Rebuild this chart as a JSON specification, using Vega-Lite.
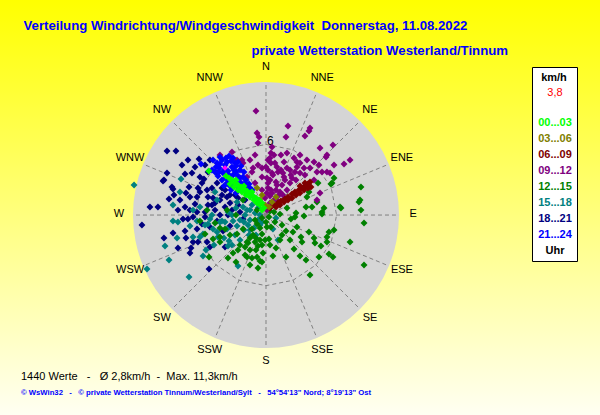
{
  "$schema": "https://vega.github.io/schema/vega-lite/v6.json",
  "width": 600,
  "height": 415,
  "padding": 0,
  "autosize": {"type": "fit", "contains": "padding"},
  "background": "#FFFFFF",
  "title": {
    "text": "1440 Werte\u00a0\u00a0 -\u00a0\u00a0 Ø 2,8km/h\u00a0 -\u00a0 Max. 11,3km/h",
    "subtitle": "© WsWin32\u00a0\u00a0 -\u00a0\u00a0 © private Wetterstation Tinnum/Westerland/Sylt\u00a0\u00a0 -\u00a0\u00a0 54°54'13\" Nord; 8°19'13\" Ost",
    "orient": "bottom",
    "anchor": "start",
    "frame": "group",
    "dx": 21,
    "offset": -44,
    "font": "Liberation Sans",
    "fontSize": 11,
    "fontWeight": "normal",
    "color": "#000000",
    "subtitleFont": "Liberation Sans",
    "subtitleFontSize": 7.7,
    "subtitleFontWeight": "bold",
    "subtitleColor": "#0000FF",
    "subtitlePadding": 7
  },
  "datasets": {
    "richtungen": [
      {"name": "N", "winkel": 0}, {"name": "NNE", "winkel": 22.5}, {"name": "NE", "winkel": 45}, {"name": "ENE", "winkel": 67.5},
      {"name": "E", "winkel": 90}, {"name": "ESE", "winkel": 112.5}, {"name": "SE", "winkel": 135}, {"name": "SSE", "winkel": 157.5},
      {"name": "S", "winkel": 180}, {"name": "SSW", "winkel": 202.5}, {"name": "SW", "winkel": 225}, {"name": "WSW", "winkel": 247.5},
      {"name": "W", "winkel": 270}, {"name": "WNW", "winkel": 292.5}, {"name": "NW", "winkel": 315}, {"name": "NNW", "winkel": 337.5}
    ],
    "ring": [
      {"winkel": 0}, {"winkel": 22.5}, {"winkel": 45}, {"winkel": 67.5}, {"winkel": 90}, {"winkel": 112.5}, {"winkel": 135}, {"winkel": 157.5},
      {"winkel": 180}, {"winkel": 202.5}, {"winkel": 225}, {"winkel": 247.5}, {"winkel": 270}, {"winkel": 292.5}, {"winkel": 315}, {"winkel": 337.5}, {"winkel": 360}
    ],
    "aktuell": [{"ost": -3.48, "nord": 3.99}],
    "punkte": [
      {"uhr": "18...21", "ost": -8.41, "nord": 5.44}, {"uhr": "18...21", "ost": -7.65, "nord": 5.44}, {"uhr": "18...21", "ost": -5.69, "nord": 4.76},
      {"uhr": "18...21", "ost": -8.41, "nord": 3.57}, {"uhr": "18...21", "ost": -8.75, "nord": 2.89}, {"uhr": "18...21", "ost": -6.88, "nord": 3.48},
      {"uhr": "18...21", "ost": -6.29, "nord": 3.57}, {"uhr": "18...21", "ost": -6.54, "nord": 2.38}, {"uhr": "18...21", "ost": -5.78, "nord": 2.29},
      {"uhr": "18...21", "ost": -5.27, "nord": 3.06}, {"uhr": "18...21", "ost": -7.9, "nord": 2.21}, {"uhr": "18...21", "ost": -8.24, "nord": 1.36},
      {"uhr": "18...21", "ost": -7.82, "nord": 1.7}, {"uhr": "18...21", "ost": -5.86, "nord": 1.53}, {"uhr": "18...21", "ost": -5.01, "nord": 2.12},
      {"uhr": "18...21", "ost": -4.59, "nord": 2.29}, {"uhr": "18...21", "ost": -9.86, "nord": 0.68}, {"uhr": "18...21", "ost": -9.18, "nord": 0.68},
      {"uhr": "18...21", "ost": -6.88, "nord": 0.68}, {"uhr": "18...21", "ost": -5.44, "nord": 2.72}, {"uhr": "18...21", "ost": -6.46, "nord": 1.53},
      {"uhr": "18...21", "ost": -6.03, "nord": 0.93}, {"uhr": "18...21", "ost": -4.93, "nord": 1.53}, {"uhr": "18...21", "ost": -4.5, "nord": 1.44},
      {"uhr": "18...21", "ost": -4.16, "nord": 3.57}, {"uhr": "18...21", "ost": -5.61, "nord": 3.23}, {"uhr": "18...21", "ost": -4.93, "nord": 3.65},
      {"uhr": "18...21", "ost": -4.16, "nord": 2.72}, {"uhr": "18...21", "ost": -3.74, "nord": 2.29}, {"uhr": "18...21", "ost": -3.91, "nord": 1.27},
      {"uhr": "18...21", "ost": -3.31, "nord": 1.53}, {"uhr": "18...21", "ost": -3.48, "nord": 0.68}, {"uhr": "18...21", "ost": -3.06, "nord": 1.02},
      {"uhr": "18...21", "ost": -4.33, "nord": 0.42}, {"uhr": "18...21", "ost": -5.18, "nord": 0.25}, {"uhr": "18...21", "ost": -5.86, "nord": 0.25},
      {"uhr": "18...21", "ost": -10.54, "nord": -0.85}, {"uhr": "18...21", "ost": -8.67, "nord": -1.95}, {"uhr": "18...21", "ost": -7.9, "nord": -1.53},
      {"uhr": "18...21", "ost": -6.88, "nord": -1.36}, {"uhr": "18...21", "ost": -6.8, "nord": -1.95}, {"uhr": "18...21", "ost": -7.48, "nord": -2.8},
      {"uhr": "18...21", "ost": -6.37, "nord": -2.8}, {"uhr": "18...21", "ost": -6.46, "nord": -3.23}, {"uhr": "18...21", "ost": -6.2, "nord": -2.29},
      {"uhr": "18...21", "ost": -5.78, "nord": -2.29}, {"uhr": "18...21", "ost": -5.01, "nord": -2.29}, {"uhr": "18...21", "ost": -4.76, "nord": -2.72},
      {"uhr": "18...21", "ost": -4.84, "nord": -4.59}, {"uhr": "18...21", "ost": -5.86, "nord": -1.19}, {"uhr": "18...21", "ost": -5.44, "nord": -0.76},
      {"uhr": "18...21", "ost": -6.2, "nord": -0.17}, {"uhr": "18...21", "ost": -7.05, "nord": -0.34}, {"uhr": "18...21", "ost": -6.63, "nord": -0.34},
      {"uhr": "18...21", "ost": -5.18, "nord": -0.17}, {"uhr": "18...21", "ost": -4.16, "nord": -0.51}, {"uhr": "18...21", "ost": -4.76, "nord": -1.02},
      {"uhr": "18...21", "ost": -3.65, "nord": -1.36}, {"uhr": "18...21", "ost": -3.48, "nord": -2.72}, {"uhr": "18...21", "ost": -3.06, "nord": -0.93},
      {"uhr": "18...21", "ost": -1.95, "nord": -0.34}, {"uhr": "18...21", "ost": -7.99, "nord": 2.38}, {"uhr": "18...21", "ost": -8.67, "nord": 2.97},
      {"uhr": "18...21", "ost": -2.63, "nord": 1.7}, {"uhr": "18...21", "ost": -2.89, "nord": 0.42}, {"uhr": "18...21", "ost": -2.38, "nord": 0.85},
      {"uhr": "18...21", "ost": -3.23, "nord": 0}, {"uhr": "18...21", "ost": -2.21, "nord": 0.25}, {"uhr": "18...21", "ost": -4.59, "nord": 0.85},
      {"uhr": "18...21", "ost": -3.91, "nord": 0}, {"uhr": "18...21", "ost": -1.78, "nord": 1.27},
      {"uhr": "18...21", "ost": -7.14, "nord": 4.25}, {"uhr": "18...21", "ost": -6.63, "nord": 4.67}, {"uhr": "18...21", "ost": -6.03, "nord": 4.08},
      {"uhr": "18...21", "ost": -5.18, "nord": 4.25}, {"uhr": "18...21", "ost": -4.76, "nord": 4.67}, {"uhr": "18...21", "ost": -7.31, "nord": 1.27},
      {"uhr": "18...21", "ost": -6.8, "nord": 1.87}, {"uhr": "18...21", "ost": -5.61, "nord": 1.95}, {"uhr": "18...21", "ost": -4.33, "nord": 1.02},
      {"uhr": "18...21", "ost": -3.74, "nord": 1.7}, {"uhr": "18...21", "ost": -3.48, "nord": 2.12}, {"uhr": "18...21", "ost": -4.93, "nord": 0.85},
      {"uhr": "18...21", "ost": -6.46, "nord": 0.42}, {"uhr": "18...21", "ost": -7.48, "nord": 0.42}, {"uhr": "18...21", "ost": -3.06, "nord": 1.7},
      {"uhr": "18...21", "ost": -2.38, "nord": 1.44},
      {"uhr": "15...18", "ost": -11.21, "nord": 2.55}, {"uhr": "15...18", "ost": -7.22, "nord": 3.06}, {"uhr": "15...18", "ost": -7.31, "nord": 1.95},
      {"uhr": "15...18", "ost": -7.9, "nord": 0.85}, {"uhr": "15...18", "ost": -6.2, "nord": 0.42}, {"uhr": "15...18", "ost": -5.61, "nord": 0.68},
      {"uhr": "15...18", "ost": -4.33, "nord": 1.95}, {"uhr": "15...18", "ost": -4.16, "nord": 1.27}, {"uhr": "15...18", "ost": -1.95, "nord": 0.68},
      {"uhr": "15...18", "ost": -1.36, "nord": 0.42}, {"uhr": "15...18", "ost": -2.46, "nord": 1.1}, {"uhr": "15...18", "ost": -10.11, "nord": -4.59},
      {"uhr": "15...18", "ost": -8.58, "nord": -2.63}, {"uhr": "15...18", "ost": -8.24, "nord": -3.82}, {"uhr": "15...18", "ost": -7.56, "nord": -1.95},
      {"uhr": "15...18", "ost": -6.54, "nord": -5.27}, {"uhr": "15...18", "ost": -5.35, "nord": -3.48}, {"uhr": "15...18", "ost": -7.9, "nord": -0.51},
      {"uhr": "15...18", "ost": -7.48, "nord": -0.59}, {"uhr": "15...18", "ost": -6.2, "nord": -1.87}, {"uhr": "15...18", "ost": -5.61, "nord": -1.87},
      {"uhr": "15...18", "ost": -4.08, "nord": -1.87}, {"uhr": "15...18", "ost": -3.14, "nord": -2.21}, {"uhr": "15...18", "ost": -3.23, "nord": -2.63},
      {"uhr": "15...18", "ost": -2.38, "nord": -4.33}, {"uhr": "15...18", "ost": -1.44, "nord": -1.7}, {"uhr": "15...18", "ost": -3.31, "nord": -1.19},
      {"uhr": "15...18", "ost": -4.5, "nord": -1.19}, {"uhr": "15...18", "ost": -5.35, "nord": -1.61}, {"uhr": "15...18", "ost": -3.74, "nord": -0.51},
      {"uhr": "15...18", "ost": -2.8, "nord": -0.51}, {"uhr": "15...18", "ost": -6.46, "nord": -0.93}, {"uhr": "15...18", "ost": -5.86, "nord": -0.51},
      {"uhr": "15...18", "ost": -4.76, "nord": -0.34}, {"uhr": "15...18", "ost": -2.46, "nord": -0.93}, {"uhr": "15...18", "ost": -4.16, "nord": -1.44},
      {"uhr": "15...18", "ost": -4.93, "nord": -0.76}, {"uhr": "15...18", "ost": 0.85, "nord": -0.25}, {"uhr": "15...18", "ost": 0.59, "nord": -1.19},
      {"uhr": "15...18", "ost": 1.02, "nord": -2.12}, {"uhr": "15...18", "ost": -1.78, "nord": 0}, {"uhr": "15...18", "ost": -1.36, "nord": -0.42},
      {"uhr": "15...18", "ost": -0.93, "nord": 0.17}, {"uhr": "15...18", "ost": -1.53, "nord": -0.85}, {"uhr": "15...18", "ost": -2.21, "nord": -0.42},
      {"uhr": "15...18", "ost": -0.68, "nord": -0.42}, {"uhr": "15...18", "ost": -1.19, "nord": 0.85}, {"uhr": "15...18", "ost": -1.87, "nord": -1.27},
      {"uhr": "15...18", "ost": -2.63, "nord": -1.7}, {"uhr": "15...18", "ost": -0.51, "nord": -0.85}, {"uhr": "15...18", "ost": -1.02, "nord": -1.1},
      {"uhr": "15...18", "ost": -1.61, "nord": 0.42}, {"uhr": "15...18", "ost": -2.89, "nord": 0}, {"uhr": "15...18", "ost": -3.48, "nord": -0.59},
      {"uhr": "15...18", "ost": -0.51, "nord": 0},
      {"uhr": "15...18", "ost": -5.18, "nord": -0.85}, {"uhr": "15...18", "ost": -4.59, "nord": 0}, {"uhr": "15...18", "ost": -3.91, "nord": -0.59},
      {"uhr": "15...18", "ost": -3.23, "nord": 0.25}, {"uhr": "15...18", "ost": -2.55, "nord": 0.59}, {"uhr": "15...18", "ost": -1.87, "nord": -0.59},
      {"uhr": "15...18", "ost": -1.36, "nord": -1.27}, {"uhr": "15...18", "ost": -0.85, "nord": -1.7}, {"uhr": "15...18", "ost": -2.21, "nord": -2.12},
      {"uhr": "15...18", "ost": -2.89, "nord": -2.55}, {"uhr": "15...18", "ost": -3.57, "nord": -1.95}, {"uhr": "15...18", "ost": -4.42, "nord": -2.55},
      {"uhr": "15...18", "ost": -5.1, "nord": -2.97}, {"uhr": "15...18", "ost": -0.68, "nord": 0.59}, {"uhr": "15...18", "ost": -0.34, "nord": -0.59},
      {"uhr": "12...15", "ost": -4.84, "nord": -3.57}, {"uhr": "12...15", "ost": -2.8, "nord": -3.23}, {"uhr": "12...15", "ost": -1.61, "nord": -3.57},
      {"uhr": "12...15", "ost": -0.76, "nord": -3.57}, {"uhr": "12...15", "ost": -0.51, "nord": -3.91}, {"uhr": "12...15", "ost": -1.78, "nord": -2.72},
      {"uhr": "12...15", "ost": -1.61, "nord": -2.29}, {"uhr": "12...15", "ost": -0.93, "nord": -2.29}, {"uhr": "12...15", "ost": -0.68, "nord": -2.63},
      {"uhr": "12...15", "ost": -0.34, "nord": -1.61}, {"uhr": "12...15", "ost": -0.76, "nord": -0.76}, {"uhr": "12...15", "ost": -1.19, "nord": -1.19},
      {"uhr": "12...15", "ost": -1.95, "nord": -1.19}, {"uhr": "12...15", "ost": -2.46, "nord": -1.61}, {"uhr": "12...15", "ost": -3.06, "nord": -1.7},
      {"uhr": "12...15", "ost": -3.48, "nord": -1.19}, {"uhr": "12...15", "ost": -3.91, "nord": -1.87}, {"uhr": "12...15", "ost": -5.18, "nord": -1.61},
      {"uhr": "12...15", "ost": -5.61, "nord": -0.51}, {"uhr": "12...15", "ost": -4.5, "nord": -2.04}, {"uhr": "12...15", "ost": -3.91, "nord": -2.29},
      {"uhr": "12...15", "ost": -3.31, "nord": 0.42}, {"uhr": "12...15", "ost": -1.95, "nord": 1.27}, {"uhr": "12...15", "ost": -5.01, "nord": 0.42},
      {"uhr": "12...15", "ost": -0.76, "nord": 0.42}, {"uhr": "12...15", "ost": 4.42, "nord": 2.72}, {"uhr": "12...15", "ost": 5.78, "nord": 3.14},
      {"uhr": "12...15", "ost": 5.61, "nord": 2.72}, {"uhr": "12...15", "ost": 8.07, "nord": 2.38}, {"uhr": "12...15", "ost": 7.9, "nord": 1.1},
      {"uhr": "12...15", "ost": 8.07, "nord": 0.42}, {"uhr": "12...15", "ost": 6.37, "nord": 0.59}, {"uhr": "12...15", "ost": 4.33, "nord": 1.1},
      {"uhr": "12...15", "ost": 3.91, "nord": 0.68}, {"uhr": "12...15", "ost": 4.93, "nord": 0.59}, {"uhr": "12...15", "ost": 4.76, "nord": 0.25},
      {"uhr": "12...15", "ost": 3.4, "nord": 0.68}, {"uhr": "12...15", "ost": 2.55, "nord": 0.17}, {"uhr": "12...15", "ost": 1.78, "nord": 0.59},
      {"uhr": "12...15", "ost": 0.68, "nord": 0.25}, {"uhr": "12...15", "ost": 3.48, "nord": 1.53}, {"uhr": "12...15", "ost": 3.65, "nord": 1.95},
      {"uhr": "12...15", "ost": 5.52, "nord": 2.63}, {"uhr": "12...15", "ost": 6.29, "nord": 0.68}, {"uhr": "12...15", "ost": 7.99, "nord": 1.27},
      {"uhr": "12...15", "ost": 8.33, "nord": -0.68}, {"uhr": "12...15", "ost": 8.33, "nord": -4.25}, {"uhr": "12...15", "ost": 7.14, "nord": -2.29},
      {"uhr": "12...15", "ost": 5.78, "nord": -1.27}, {"uhr": "12...15", "ost": 5.35, "nord": -1.44}, {"uhr": "12...15", "ost": 5.18, "nord": -1.87},
      {"uhr": "12...15", "ost": 5.18, "nord": -2.29}, {"uhr": "12...15", "ost": 4.67, "nord": -2.63}, {"uhr": "12...15", "ost": 4.08, "nord": -1.95},
      {"uhr": "12...15", "ost": 3.65, "nord": -1.44}, {"uhr": "12...15", "ost": 2.97, "nord": -1.87}, {"uhr": "12...15", "ost": 3.06, "nord": -2.29},
      {"uhr": "12...15", "ost": 2.63, "nord": -1.02}, {"uhr": "12...15", "ost": 2.12, "nord": -0.34}, {"uhr": "12...15", "ost": 2.46, "nord": -0.17},
      {"uhr": "12...15", "ost": 3.23, "nord": -0.08}, {"uhr": "12...15", "ost": 4.76, "nord": 0.08}, {"uhr": "12...15", "ost": 1.7, "nord": -1.36},
      {"uhr": "12...15", "ost": 1.36, "nord": -1.7}, {"uhr": "12...15", "ost": 2.38, "nord": -2.89}, {"uhr": "12...15", "ost": 1.7, "nord": -3.57},
      {"uhr": "12...15", "ost": 0.59, "nord": -3.48}, {"uhr": "12...15", "ost": 2.89, "nord": -3.48}, {"uhr": "12...15", "ost": 3.4, "nord": -3.82},
      {"uhr": "12...15", "ost": 4.5, "nord": -3.57}, {"uhr": "12...15", "ost": 5.35, "nord": -3.31}, {"uhr": "12...15", "ost": 5.69, "nord": -3.57},
      {"uhr": "12...15", "ost": 3.74, "nord": -5.1}, {"uhr": "12...15", "ost": 0.25, "nord": -2.04}, {"uhr": "12...15", "ost": 0.08, "nord": -1.02},
      {"uhr": "12...15", "ost": 0.42, "nord": -1.02}, {"uhr": "12...15", "ost": 0.25, "nord": -0.17}, {"uhr": "12...15", "ost": -0.51, "nord": -2.12},
      {"uhr": "12...15", "ost": -1.53, "nord": -2.38}, {"uhr": "12...15", "ost": -0.25, "nord": -3.23}, {"uhr": "12...15", "ost": 2.29, "nord": -1.44},
      {"uhr": "12...15", "ost": 4.16, "nord": -2.38}, {"uhr": "12...15", "ost": -0.34, "nord": -0.25}, {"uhr": "12...15", "ost": -0.51, "nord": -1.1},
      {"uhr": "12...15", "ost": -0.34, "nord": -2.55}, {"uhr": "12...15", "ost": -0.85, "nord": -2.97}, {"uhr": "12...15", "ost": -1.1, "nord": -1.7},
      {"uhr": "12...15", "ost": -1.36, "nord": -2.97}, {"uhr": "12...15", "ost": -2.21, "nord": -2.55}, {"uhr": "12...15", "ost": -4.33, "nord": -0.68},
      {"uhr": "12...15", "ost": -3.91, "nord": -1.1}, {"uhr": "12...15", "ost": -2.55, "nord": 0}, {"uhr": "12...15", "ost": 0, "nord": -0.6},
      {"uhr": "12...15", "ost": 0.34, "nord": 0.34}, {"uhr": "12...15", "ost": 1.19, "nord": 0.08}, {"uhr": "12...15", "ost": -0.85, "nord": -1.95},
      {"uhr": "12...15", "ost": -0.93, "nord": -0.42}, {"uhr": "12...15", "ost": -1.36, "nord": -1.95}, {"uhr": "12...15", "ost": -1.78, "nord": -3.4},
      {"uhr": "12...15", "ost": -2.38, "nord": -2.97}, {"uhr": "12...15", "ost": -1.19, "nord": -3.65}, {"uhr": "12...15", "ost": -0.08, "nord": -2.12},
      {"uhr": "12...15", "ost": -0.34, "nord": -3.99}, {"uhr": "12...15", "ost": -0.68, "nord": -4.5}, {"uhr": "12...15", "ost": -1.36, "nord": -4.25},
      {"uhr": "12...15", "ost": -2.55, "nord": -3.99}, {"uhr": "12...15", "ost": -3.23, "nord": -3.65}, {"uhr": "12...15", "ost": 0.34, "nord": -2.55},
      {"uhr": "12...15", "ost": 0.85, "nord": -2.8}, {"uhr": "12...15", "ost": 1.19, "nord": -2.12}, {"uhr": "12...15", "ost": 2.04, "nord": -2.12},
      {"uhr": "12...15", "ost": 1.36, "nord": -0.85}, {"uhr": "12...15", "ost": 0.76, "nord": -0.59},
      {"uhr": "09...12", "ost": -0.85, "nord": 8.84}, {"uhr": "09...12", "ost": -0.76, "nord": 6.97}, {"uhr": "09...12", "ost": -0.59, "nord": 6.63},
      {"uhr": "09...12", "ost": 1.87, "nord": 7.56}, {"uhr": "09...12", "ost": 3.65, "nord": 7.14}, {"uhr": "09...12", "ost": 3.31, "nord": 6.71},
      {"uhr": "09...12", "ost": 4.59, "nord": 5.69}, {"uhr": "09...12", "ost": 7.14, "nord": 4.67}, {"uhr": "09...12", "ost": -2.89, "nord": 5.35},
      {"uhr": "09...12", "ost": -2.04, "nord": 4.67}, {"uhr": "09...12", "ost": -1.36, "nord": 4.67}, {"uhr": "09...12", "ost": -0.34, "nord": 3.99},
      {"uhr": "09...12", "ost": -0.68, "nord": 6.12}, {"uhr": "09...12", "ost": -3.91, "nord": 5.1}, {"uhr": "09...12", "ost": -1.95, "nord": 4.42},
      {"uhr": "09...12", "ost": -1.19, "nord": 3.65}, {"uhr": "09...12", "ost": -0.93, "nord": 2.72}, {"uhr": "09...12", "ost": -1.61, "nord": 3.23},
      {"uhr": "09...12", "ost": -0.34, "nord": 3.23}, {"uhr": "09...12", "ost": 1.7, "nord": 6.63}, {"uhr": "09...12", "ost": 5.69, "nord": 5.95},
      {"uhr": "09...12", "ost": 0.42, "nord": 5.27}, {"uhr": "09...12", "ost": 0.68, "nord": 5.1}, {"uhr": "09...12", "ost": 1.27, "nord": 5.1},
      {"uhr": "09...12", "ost": 1.78, "nord": 5.27}, {"uhr": "09...12", "ost": 2.38, "nord": 4.84}, {"uhr": "09...12", "ost": 2.63, "nord": 4.5},
      {"uhr": "09...12", "ost": 3.48, "nord": 4.67}, {"uhr": "09...12", "ost": 4.08, "nord": 4.5}, {"uhr": "09...12", "ost": 5.1, "nord": 4.93},
      {"uhr": "09...12", "ost": 6.63, "nord": 4.33}, {"uhr": "09...12", "ost": 5.78, "nord": 4.25}, {"uhr": "09...12", "ost": 4.5, "nord": 4.25},
      {"uhr": "09...12", "ost": 4.33, "nord": 3.65}, {"uhr": "09...12", "ost": 4.76, "nord": 3.65}, {"uhr": "09...12", "ost": 5.18, "nord": 3.65},
      {"uhr": "09...12", "ost": 4.08, "nord": 2.97}, {"uhr": "09...12", "ost": 2.12, "nord": 3.4}, {"uhr": "09...12", "ost": 2.55, "nord": 2.97},
      {"uhr": "09...12", "ost": 1.53, "nord": 3.23}, {"uhr": "09...12", "ost": 0.93, "nord": 4.08}, {"uhr": "09...12", "ost": 0.42, "nord": 4.42},
      {"uhr": "09...12", "ost": 0, "nord": 4.08}, {"uhr": "09...12", "ost": 0.85, "nord": 2.8}, {"uhr": "09...12", "ost": 1.36, "nord": 2.55},
      {"uhr": "09...12", "ost": 0.42, "nord": 2.12}, {"uhr": "09...12", "ost": 0.08, "nord": 1.87}, {"uhr": "09...12", "ost": 1.1, "nord": 1.7},
      {"uhr": "09...12", "ost": 0.68, "nord": 1.27}, {"uhr": "09...12", "ost": 1.78, "nord": 2.12}, {"uhr": "09...12", "ost": 0.51, "nord": 3.57},
      {"uhr": "09...12", "ost": 1.53, "nord": 4.5}, {"uhr": "09...12", "ost": 0.08, "nord": 3.14}, {"uhr": "09...12", "ost": 1.27, "nord": 3.82},
      {"uhr": "09...12", "ost": 1.78, "nord": 3.99}, {"uhr": "09...12", "ost": 2.63, "nord": 4.08}, {"uhr": "09...12", "ost": 3.23, "nord": 3.99},
      {"uhr": "09...12", "ost": 3.74, "nord": 7.39}, {"uhr": "09...12", "ost": 5.18, "nord": 5.1}, {"uhr": "09...12", "ost": 2.89, "nord": 5.1},
      {"uhr": "09...12", "ost": 0.51, "nord": 5.78}, {"uhr": "09...12", "ost": -1.1, "nord": 3.99}, {"uhr": "09...12", "ost": 0.17, "nord": 3.82},
      {"uhr": "09...12", "ost": 0.76, "nord": 4.42}, {"uhr": "09...12", "ost": 1.44, "nord": 3.57}, {"uhr": "09...12", "ost": 2.21, "nord": 3.14},
      {"uhr": "09...12", "ost": 0.93, "nord": 2.55}, {"uhr": "09...12", "ost": 1.19, "nord": 1.95}, {"uhr": "09...12", "ost": 0.51, "nord": 1.87},
      {"uhr": "09...12", "ost": 0.34, "nord": 1.02}, {"uhr": "09...12", "ost": 0.93, "nord": 1.27}, {"uhr": "09...12", "ost": 0.08, "nord": 0.42},
      {"uhr": "09...12", "ost": 5.44, "nord": 3.57}, {"uhr": "09...12", "ost": 4.33, "nord": 1.27}, {"uhr": "09...12", "ost": 4.59, "nord": 1.87},
      {"uhr": "09...12", "ost": -2.46, "nord": 4.67}, {"uhr": "09...12", "ost": 0.17, "nord": 2.72}, {"uhr": "09...12", "ost": 0.34, "nord": 4.84},
      {"uhr": "09...12", "ost": 2.04, "nord": 2.72}, {"uhr": "09...12", "ost": 2.89, "nord": 3.57},
      {"uhr": "09...12", "ost": 0.17, "nord": 2.29}, {"uhr": "09...12", "ost": 0.34, "nord": 2.97}, {"uhr": "09...12", "ost": 0.59, "nord": 3.4},
      {"uhr": "09...12", "ost": 0.17, "nord": 4.67}, {"uhr": "09...12", "ost": 1.02, "nord": 3.65}, {"uhr": "09...12", "ost": 1.61, "nord": 2.97},
      {"uhr": "09...12", "ost": 2.04, "nord": 3.82}, {"uhr": "09...12", "ost": 2.46, "nord": 3.65}, {"uhr": "09...12", "ost": 2.89, "nord": 4.42},
      {"uhr": "09...12", "ost": 3.31, "nord": 3.4}, {"uhr": "09...12", "ost": 3.74, "nord": 3.99}, {"uhr": "09...12", "ost": 0.85, "nord": 2.12},
      {"uhr": "09...12", "ost": 1.44, "nord": 1.7}, {"uhr": "09...12", "ost": -0.08, "nord": 1.44}, {"uhr": "09...12", "ost": 0.34, "nord": 1.61},
      {"uhr": "09...12", "ost": -0.34, "nord": 2.12}, {"uhr": "09...12", "ost": -0.68, "nord": 4.25}, {"uhr": "09...12", "ost": -0.93, "nord": 5.1},
      {"uhr": "06...09", "ost": 0.34, "nord": 0.59}, {"uhr": "06...09", "ost": 0.68, "nord": 0.85}, {"uhr": "06...09", "ost": 1.02, "nord": 1.02},
      {"uhr": "06...09", "ost": 1.27, "nord": 1.19}, {"uhr": "06...09", "ost": 1.61, "nord": 1.36}, {"uhr": "06...09", "ost": 1.87, "nord": 1.53},
      {"uhr": "06...09", "ost": 2.21, "nord": 1.78}, {"uhr": "06...09", "ost": 2.46, "nord": 1.95}, {"uhr": "06...09", "ost": 2.8, "nord": 2.12},
      {"uhr": "06...09", "ost": 3.06, "nord": 2.29}, {"uhr": "06...09", "ost": 3.31, "nord": 2.46}, {"uhr": "06...09", "ost": 3.57, "nord": 2.63},
      {"uhr": "06...09", "ost": 3.74, "nord": 2.8}, {"uhr": "06...09", "ost": 0.85, "nord": 0.68}, {"uhr": "06...09", "ost": 1.19, "nord": 0.85},
      {"uhr": "06...09", "ost": 1.53, "nord": 1.1}, {"uhr": "06...09", "ost": 1.87, "nord": 1.27}, {"uhr": "06...09", "ost": 2.21, "nord": 1.44},
      {"uhr": "06...09", "ost": 2.55, "nord": 1.7}, {"uhr": "06...09", "ost": 2.89, "nord": 1.87}, {"uhr": "06...09", "ost": 3.23, "nord": 2.12},
      {"uhr": "06...09", "ost": 3.57, "nord": 2.29}, {"uhr": "06...09", "ost": 3.82, "nord": 2.38}, {"uhr": "06...09", "ost": 3.31, "nord": 2.72},
      {"uhr": "06...09", "ost": 2.89, "nord": 2.46},
      {"uhr": "03...06", "ost": -0.76, "nord": 2.29}, {"uhr": "03...06", "ost": -0.34, "nord": 1.7}, {"uhr": "03...06", "ost": -1.61, "nord": 1.87},
      {"uhr": "03...06", "ost": 0.51, "nord": 1.1}, {"uhr": "03...06", "ost": 0.85, "nord": 1.53}, {"uhr": "03...06", "ost": 0.25, "nord": 0.68},
      {"uhr": "03...06", "ost": -0.08, "nord": 0.85}, {"uhr": "03...06", "ost": -0.51, "nord": 1.27},
      {"uhr": "21...24", "ost": -3.14, "nord": 5.01}, {"uhr": "21...24", "ost": -3.91, "nord": 4.93}, {"uhr": "21...24", "ost": -4.16, "nord": 4.42},
      {"uhr": "21...24", "ost": -5.52, "nord": 4.33}, {"uhr": "21...24", "ost": -4.33, "nord": 3.65}, {"uhr": "21...24", "ost": -3.31, "nord": 4.5},
      {"uhr": "21...24", "ost": -2.63, "nord": 4.42}, {"uhr": "21...24", "ost": -2.21, "nord": 3.82}, {"uhr": "21...24", "ost": -1.95, "nord": 3.23},
      {"uhr": "21...24", "ost": -1.78, "nord": 2.72}, {"uhr": "21...24", "ost": -2.46, "nord": 2.72}, {"uhr": "21...24", "ost": -3.65, "nord": 3.57},
      {"uhr": "21...24", "ost": -3.06, "nord": 2.97}, {"uhr": "21...24", "ost": -3.74, "nord": 2.97}, {"uhr": "21...24", "ost": -2.8, "nord": 4.84},
      {"uhr": "21...24", "ost": -2.38, "nord": 4.5}, {"uhr": "21...24", "ost": -3.48, "nord": 4.25}, {"uhr": "21...24", "ost": -2.89, "nord": 4.08},
      {"uhr": "21...24", "ost": -3.23, "nord": 3.74}, {"uhr": "21...24", "ost": -2.55, "nord": 3.65}, {"uhr": "21...24", "ost": -3.99, "nord": 3.99},
      {"uhr": "21...24", "ost": -2.8, "nord": 3.4}, {"uhr": "21...24", "ost": -3.4, "nord": 3.14}, {"uhr": "21...24", "ost": -2.21, "nord": 3.14},
      {"uhr": "21...24", "ost": -1.61, "nord": 2.38}, {"uhr": "21...24", "ost": -2.04, "nord": 2.12}, {"uhr": "21...24", "ost": -3.06, "nord": 2.46},
      {"uhr": "21...24", "ost": -1.36, "nord": 2.29}, {"uhr": "21...24", "ost": -4.08, "nord": 3.31}, {"uhr": "21...24", "ost": -3.57, "nord": 2.46},
      {"uhr": "21...24", "ost": -3.74, "nord": 4.67}, {"uhr": "21...24", "ost": -3.4, "nord": 4.84}, {"uhr": "21...24", "ost": -2.97, "nord": 4.59},
      {"uhr": "21...24", "ost": -2.55, "nord": 4.16}, {"uhr": "21...24", "ost": -2.12, "nord": 4.16}, {"uhr": "21...24", "ost": -1.87, "nord": 3.65},
      {"uhr": "21...24", "ost": -2.38, "nord": 3.31}, {"uhr": "21...24", "ost": -2.72, "nord": 3.82}, {"uhr": "21...24", "ost": -3.14, "nord": 3.4},
      {"uhr": "21...24", "ost": -3.57, "nord": 3.82}, {"uhr": "21...24", "ost": -3.91, "nord": 4.33}, {"uhr": "21...24", "ost": -4.25, "nord": 4.08},
      {"uhr": "21...24", "ost": -4.5, "nord": 4.67}, {"uhr": "21...24", "ost": -4.59, "nord": 3.82}, {"uhr": "21...24", "ost": -3.99, "nord": 3.65},
      {"uhr": "21...24", "ost": -3.31, "nord": 2.72}, {"uhr": "21...24", "ost": -2.8, "nord": 2.46}, {"uhr": "21...24", "ost": -2.29, "nord": 2.29},
      {"uhr": "21...24", "ost": -2.55, "nord": 1.87}, {"uhr": "21...24", "ost": -2.97, "nord": 2.12}, {"uhr": "21...24", "ost": -1.7, "nord": 2.97},
      {"uhr": "21...24", "ost": -1.44, "nord": 2.63}, {"uhr": "21...24", "ost": -1.19, "nord": 2.12}, {"uhr": "21...24", "ost": -2.12, "nord": 2.72},
      {"uhr": "00...03", "ost": -0.34, "nord": 1.02}, {"uhr": "00...03", "ost": -0.6, "nord": 1.27}, {"uhr": "00...03", "ost": -0.85, "nord": 1.45},
      {"uhr": "00...03", "ost": -1.1, "nord": 1.61}, {"uhr": "00...03", "ost": -1.36, "nord": 1.87}, {"uhr": "00...03", "ost": -1.61, "nord": 2.04},
      {"uhr": "00...03", "ost": -1.87, "nord": 2.21}, {"uhr": "00...03", "ost": -2.12, "nord": 2.38}, {"uhr": "00...03", "ost": -2.38, "nord": 2.55},
      {"uhr": "00...03", "ost": -2.63, "nord": 2.72}, {"uhr": "00...03", "ost": -2.89, "nord": 2.97}, {"uhr": "00...03", "ost": -3.14, "nord": 3.14},
      {"uhr": "00...03", "ost": -3.4, "nord": 3.31}, {"uhr": "00...03", "ost": -0.51, "nord": 0.85}, {"uhr": "00...03", "ost": -0.76, "nord": 1.02},
      {"uhr": "00...03", "ost": -1.02, "nord": 1.27}, {"uhr": "00...03", "ost": -1.36, "nord": 1.53}, {"uhr": "00...03", "ost": -1.7, "nord": 1.7},
      {"uhr": "00...03", "ost": -2.04, "nord": 1.95}, {"uhr": "00...03", "ost": -2.38, "nord": 2.12}, {"uhr": "00...03", "ost": -2.72, "nord": 2.38},
      {"uhr": "00...03", "ost": -3.06, "nord": 2.63}, {"uhr": "00...03", "ost": -0.17, "nord": 0.6}, {"uhr": "00...03", "ost": -0.34, "nord": 0.42},
      {"uhr": "00...03", "ost": -4.85, "nord": 3.74}, {"uhr": "00...03", "ost": -2.55, "nord": 2.97}, {"uhr": "00...03", "ost": -1.87, "nord": 2.46},
      {"uhr": "00...03", "ost": -1.19, "nord": 1.95}
    ]
  },
  "layer": [
    {
      "data": {"values": [{"ost": 0, "nord": 0}]},
      "mark": {"type": "point", "shape": "circle", "filled": true, "size": 70756, "color": "#D5D5D5", "opacity": 1, "strokeWidth": 0},
      "encoding": {
        "x": {
          "field": "ost",
          "type": "quantitative",
          "scale": {"domain": [-22.6, 28.38], "nice": false, "zero": false},
          "axis": {
            "orient": "top",
            "labels": false,
            "ticks": false,
            "domain": false,
            "grid": false,
            "title": "Verteilung Windrichtung/Windgeschwindigkeit\u00a0\u00a0Donnerstag, 11.08.2022",
            "titleX": 23,
            "titleY": 29,
            "titleAngle": 0,
            "titleAlign": "left",
            "titleBaseline": "alphabetic",
            "titleFont": "Liberation Sans",
            "titleFontSize": 13.2,
            "titleFontWeight": "bold",
            "titleColor": "#0000FF"
          }
        },
        "y": {
          "field": "nord",
          "type": "quantitative",
          "scale": {"domain": [-16.99, 18.27], "nice": false, "zero": false},
          "axis": {
            "orient": "left",
            "labels": false,
            "ticks": false,
            "domain": false,
            "grid": false,
            "title": "private Wetterstation Westerland/Tinnum",
            "titleX": 251,
            "titleY": 54,
            "titleAngle": 0,
            "titleAlign": "left",
            "titleBaseline": "alphabetic",
            "titleFont": "Liberation Sans",
            "titleFontSize": 13.2,
            "titleFontWeight": "bold",
            "titleColor": "#0000FF"
          }
        }
      }
    },
    {
      "data": {"name": "richtungen"},
      "transform": [
        {"calculate": "11.3*sin(datum.winkel*PI/180)", "as": "ost"},
        {"calculate": "11.3*cos(datum.winkel*PI/180)", "as": "nord"},
        {"calculate": "0", "as": "null_o"},
        {"calculate": "0", "as": "null_n"}
      ],
      "mark": {"type": "rule", "color": "#808080", "strokeWidth": 1, "strokeDash": [4, 3]},
      "encoding": {
        "x": {"field": "null_o", "type": "quantitative"},
        "y": {"field": "null_n", "type": "quantitative"},
        "x2": {"field": "ost"},
        "y2": {"field": "nord"}
      }
    },
    {
      "data": {"name": "ring"},
      "transform": [
        {"calculate": "6*sin(datum.winkel*PI/180)", "as": "ost"},
        {"calculate": "6*cos(datum.winkel*PI/180)", "as": "nord"}
      ],
      "mark": {"type": "line", "color": "#808080", "strokeWidth": 1, "strokeDash": [4, 3]},
      "encoding": {
        "x": {"field": "ost", "type": "quantitative"},
        "y": {"field": "nord", "type": "quantitative"},
        "order": {"field": "winkel"}
      }
    },
    {
      "data": {"values": [{"ost": 0, "nord": 6, "text": "6"}]},
      "mark": {"type": "text", "font": "Liberation Sans", "fontSize": 12, "color": "#000000", "align": "left", "baseline": "middle", "dx": 1, "dy": -3},
      "encoding": {
        "x": {"field": "ost", "type": "quantitative"},
        "y": {"field": "nord", "type": "quantitative"},
        "text": {"field": "text"}
      }
    },
    {
      "data": {"name": "punkte"},
      "mark": {"type": "point", "shape": "diamond", "filled": true, "size": 48, "opacity": 1, "strokeWidth": 0},
      "encoding": {
        "x": {"field": "ost", "type": "quantitative"},
        "y": {"field": "nord", "type": "quantitative"},
        "color": {
          "field": "uhr",
          "type": "nominal",
          "scale": {
            "domain": ["3,8", " ", "00...03", "03...06", "06...09", "09...12", "12...15", "15...18", "18...21", "21...24", "Uhr"],
            "range": ["#FF0000", "#FFFFFF", "#00FF00", "#808000", "#800000", "#800080", "#008000", "#008080", "#000080", "#0000FF", "#000000"]
          },
          "legend": {
            "orient": "none",
            "legendX": 532,
            "legendY": 67,
            "title": "km/h",
            "titleFont": "Liberation Sans",
            "titleFontSize": 11,
            "titleFontWeight": "bold",
            "titleColor": "#000000",
            "titleAnchor": "middle",
            "titlePadding": 4,
            "padding": 5,
            "strokeColor": "#000000",
            "fillColor": "#FFFFFF",
            "symbolSize": 0,
            "symbolOpacity": 0,
            "symbolStrokeWidth": 0,
            "labelFont": "Liberation Sans",
            "labelFontSize": 11,
            "labelFontWeight": "bold",
            "labelAlign": "center",
            "labelOffset": 7,
            "labelLimit": 0,
            "rowPadding": 4,
            "encode": {
              "labels": {
                "update": {
                  "fill": {"scale": "color", "field": "value"},
                  "fontWeight": {"signal": "datum.value === '3,8' ? 'normal' : 'bold'"},
                  "fontSize": {"signal": "datum.value === ' ' ? 8 : 11"}
                }
              }
            }
          }
        }
      }
    },
    {
      "data": {"name": "aktuell"},
      "mark": {"type": "point", "shape": "diamond", "filled": true, "size": 30, "color": "#FF00FF", "opacity": 1, "strokeWidth": 0},
      "encoding": {
        "x": {"field": "ost", "type": "quantitative"},
        "y": {"field": "nord", "type": "quantitative"}
      }
    },
    {
      "data": {"name": "richtungen"},
      "transform": [
        {"calculate": "12.5*sin(datum.winkel*PI/180)", "as": "ost"},
        {"calculate": "12.5*cos(datum.winkel*PI/180)", "as": "nord"}
      ],
      "mark": {"type": "text", "font": "Liberation Sans", "fontSize": 11, "color": "#000000", "align": "center", "baseline": "middle", "dy": -1},
      "encoding": {
        "x": {"field": "ost", "type": "quantitative"},
        "y": {"field": "nord", "type": "quantitative"},
        "text": {"field": "name"}
      }
    }
  ],
  "config": {
    "font": "Liberation Sans",
    "view": {
      "stroke": null,
      "fill": {
        "gradient": "linear",
        "x1": 0, "y1": 0, "x2": 0, "y2": 1,
        "stops": [
          {"offset": 0, "color": "#FFFF00"},
          {"offset": 1, "color": "#FFFFF2"}
        ]
      }
    }
  }
}
